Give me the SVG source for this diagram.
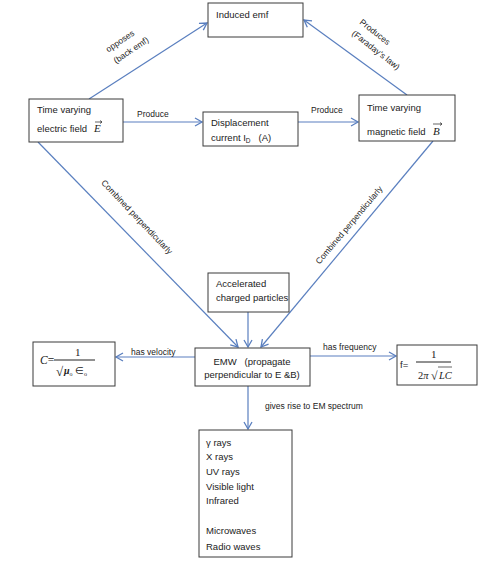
<svg xmlns="http://www.w3.org/2000/svg" width="487" height="563" viewBox="0 0 487 563">
<defs>
<marker id="arr" markerWidth="10" markerHeight="10" refX="8" refY="5" orient="auto" markerUnits="userSpaceOnUse">
<path d="M1,1 L8,5 L1,9" fill="none" stroke="#5a7fbf" stroke-width="1.3"/>
</marker>
</defs>
<style>
.box{fill:#fff;stroke:#3a3a3a;stroke-width:1}
.t{font-family:"Liberation Sans",Arial,sans-serif;font-size:9.5px;fill:#222}
.l{font-family:"Liberation Sans",Arial,sans-serif;font-size:8.5px;fill:#222}
.m{font-family:"Liberation Serif","Times New Roman",serif;fill:#222}
.c{fill:none;stroke:#5a7fbf;stroke-width:1.2;marker-end:url(#arr)}
</style>
<rect width="487" height="563" fill="#fff"/>
<g id="connectors">
<line class="c" x1="89" y1="99" x2="207" y2="23"/>
<line class="c" x1="407" y1="95" x2="304" y2="20"/>
<line class="c" x1="123" y1="122" x2="202" y2="122"/>
<line class="c" x1="298" y1="122" x2="358" y2="122"/>
<line class="c" x1="38" y1="142" x2="238" y2="347"/>
<line class="c" x1="433" y1="141" x2="261" y2="347"/>
<line class="c" x1="248" y1="312" x2="248" y2="347"/>
<line class="c" x1="195" y1="357" x2="116" y2="357"/>
<line class="c" x1="310" y1="356" x2="396" y2="356"/>
<line class="c" x1="248" y1="386" x2="248" y2="429"/>
<text class="l" transform="translate(120,41) rotate(-34)" text-anchor="middle" y="3">opposes</text>
<text class="l" transform="translate(131,50) rotate(-34)" text-anchor="middle" y="3">(back emf)</text>
<text class="l" transform="translate(375,32) rotate(38)" text-anchor="middle" y="3" font-size="9">Produces</text>
<text class="l" transform="translate(376,50) rotate(38)" text-anchor="middle" y="3" font-size="9">(Faraday’s law)</text>
<text class="l" x="137" y="117">Produce</text>
<text class="l" x="311" y="113">Produce</text>
<text class="l" transform="translate(137,217) rotate(46.5)" text-anchor="middle" y="3" font-size="9">Combined perpendicularly</text>
<text class="l" transform="translate(349,225) rotate(-50)" text-anchor="middle" y="3" font-size="9">Combined perpendicularly</text>
<text class="l" x="131" y="355">has velocity</text>
<text class="l" x="323" y="350">has frequency</text>
<text class="l" x="265" y="409">gives rise to EM spectrum</text>
</g>
<g id="induced">
<rect class="box" x="208" y="3" width="95" height="34"/>
<text class="t" x="216" y="18">Induced emf</text>
</g>
<g id="efield">
<rect class="box" x="29" y="99" width="94" height="43"/>
<text class="t" x="37" y="113">Time varying</text>
<text class="t" x="37" y="132">electric field</text>
<text class="m" x="94" y="132" font-size="11" font-style="italic">E</text>
<path d="M95,122 L102,122 M100,120.5 L102,122 L100,123.5" fill="none" stroke="#222" stroke-width="0.7"/>
</g>
<g id="displacement">
<rect class="box" x="203" y="112" width="95" height="34"/>
<text class="t" x="211" y="126">Displacement</text>
<text class="t" x="211" y="141" xml:space="preserve">current I<tspan font-size="6.5" dy="1.5">D</tspan><tspan dy="-1.5">   (A)</tspan></text>
</g>
<g id="bfield">
<rect class="box" x="359" y="95" width="96" height="46"/>
<text class="t" x="367" y="111">Time varying</text>
<text class="t" x="367" y="135">magnetic field</text>
<text class="m" x="433" y="135" font-size="11" font-style="italic">B</text>
<path d="M433,124 L442,124 M440,122.5 L442,124 L440,125.5" fill="none" stroke="#222" stroke-width="0.7"/>
</g>
<g id="accelerated">
<rect class="box" x="208" y="273" width="81" height="39"/>
<text class="t" x="216" y="287">Accelerated</text>
<text class="t" x="216" y="301">charged particles</text>
</g>
<g id="emw">
<rect class="box" x="195" y="348" width="115" height="38"/>
<text class="t" x="252" y="365" text-anchor="middle" font-size="10.5" xml:space="preserve">EMW   (propagate</text>
<text class="t" x="252" y="378" text-anchor="middle" font-size="10.5">perpendicular to E &amp;B)</text>
</g>
<g id="velocity">
<rect class="box" x="33" y="342" width="82" height="44"/>
<text class="m" x="40" y="364" font-size="11.5"><tspan font-style="italic">C</tspan>=</text>
<text class="m" x="75" y="356" font-size="11">1</text>
<line x1="54" y1="360" x2="95" y2="360" stroke="#222" stroke-width="1"/>
<text class="m" x="56" y="376" font-size="13">√</text>
<text class="m" x="64" y="374" font-size="10"><tspan font-weight="bold" font-style="italic">μ</tspan><tspan font-size="6" dy="1.5">o</tspan><tspan dy="-1.5"> ∈</tspan><tspan font-size="6" dy="1.5">o</tspan></text>
</g>
<g id="frequency">
<rect class="box" x="397" y="345" width="80" height="40"/>
<text class="t" x="400" y="368">f=</text>
<text class="m" x="431" y="358" font-size="11">1</text>
<line x1="416" y1="362" x2="451" y2="362" stroke="#222" stroke-width="1"/>
<text class="m" x="418" y="379" font-size="10.5">2<tspan font-style="italic">π</tspan></text>
<text class="m" x="431" y="380" font-size="12">√</text>
<line x1="438" y1="367" x2="452" y2="367" stroke="#222" stroke-width="0.7"/>
<text class="m" x="439" y="379" font-size="10.5" font-style="italic">LC</text>
</g>
<g id="spectrum">
<rect class="box" x="199" y="430" width="93" height="127"/>
<text class="t" x="206" y="446">γ rays</text>
<text class="t" x="206" y="460">X rays</text>
<text class="t" x="206" y="475">UV rays</text>
<text class="t" x="206" y="490">Visible light</text>
<text class="t" x="206" y="504">Infrared</text>
<text class="t" x="206" y="534">Microwaves</text>
<text class="t" x="206" y="550">Radio waves</text>
</g>
</svg>
